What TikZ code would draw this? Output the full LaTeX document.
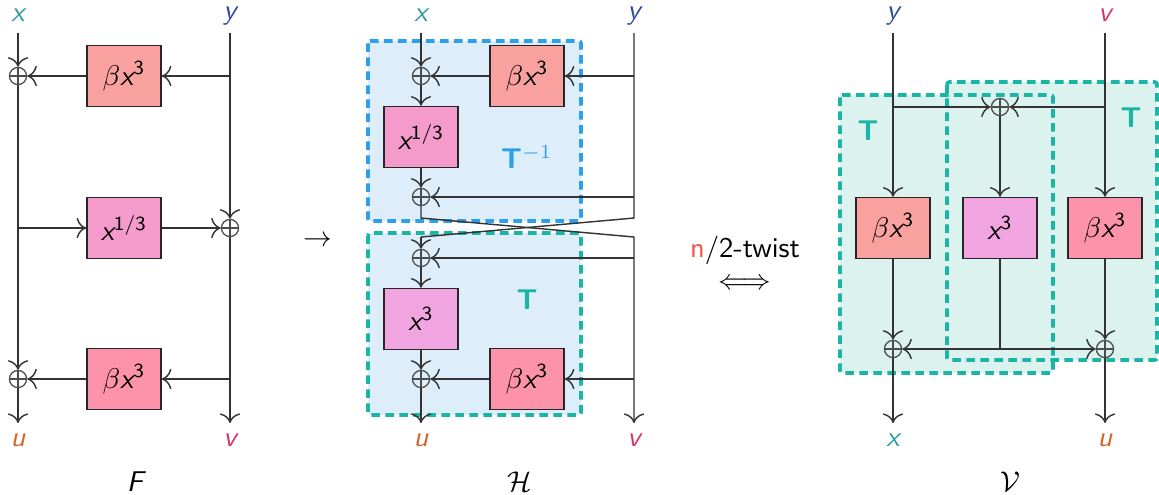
\documentclass[tikz,border=0pt]{standalone}
\usepackage{tikz}
\usetikzlibrary{arrows.meta}
\renewcommand{\familydefault}{\sfdefault}

% цвета
\definecolor{cx}{HTML}{2A9D9D}
\definecolor{cy}{HTML}{2D4C9E}
\definecolor{cu}{HTML}{D2692A}
\definecolor{cv}{HTML}{D03A6A}
\definecolor{salmon}{HTML}{F9A19F}
\definecolor{rootpink}{HTML}{F49BCB}
\definecolor{rose}{HTML}{FC93AB}
\definecolor{lilac}{HTML}{F0A5E0}
\definecolor{tinvblue}{HTML}{2E9FEA}
\definecolor{tteal}{HTML}{1AB5A4}
\definecolor{bgblue}{HTML}{DDEEFA}
\definecolor{bgteal}{HTML}{DCF2EF}
\definecolor{nred}{HTML}{F0554A}

\newcommand{\mv}[1]{{\itshape #1}}

\tikzset{
  wire/.style={draw=black!80, line width=0.5pt},
  arr/.style={wire, -{Computer Modern Rightarrow[scale=1.25]}},
  fbox/.style={draw=black!85, line width=0.5pt, minimum width=25.9pt, minimum height=21.4pt, inner sep=0pt},
  sumnode/.style={circle, draw=black!70, line width=0.45pt, minimum size=6pt, inner sep=0pt,
    path picture={\draw[black!70, line width=0.45pt]
      (path picture bounding box.north) -- (path picture bounding box.south)
      (path picture bounding box.west) -- (path picture bounding box.east);}},
  io/.style={inner sep=0.5pt},
  tframe/.style={line width=1.25pt, dash pattern=on 3pt off 1.9pt, rounded corners=0.8pt},
  tlabel/.style={font=\bfseries}
}

\begin{document}
\begin{tikzpicture}[x=0.35pt, y=-0.35pt]
	% рамка рисунка
	\useasboundingbox (0,0) rectangle (1159,494);

	% ---------- F ----------
	\node[io, text=cx] (Fx) at (18,15) {\mv{x}};
	\node[io, text=cy] (Fy) at (230,16) {\mv{y}};
	\coordinate (Fxt) at (18,33);
	\coordinate (Fyt) at (230,33);
	\node[sumnode] (Fs1) at (18,76) {};
	\node[fbox, fill=salmon] (Fb1) at (124,76) {$\beta$\mv{x}\textsuperscript{3}};
	\node[fbox, fill=rootpink] (Fb2) at (124,228) {\mv{x}\textsuperscript{1/3}};
	\node[sumnode] (Fs2) at (230,228) {};
	\node[fbox, fill=rose] (Fb3) at (124,379) {$\beta$\mv{x}\textsuperscript{3}};
	\node[sumnode] (Fs3) at (18,379) {};
	\coordinate (Fy1) at (230,76);
	\coordinate (Fx2) at (18,228);
	\coordinate (Fy3) at (230,379);
	\coordinate (Fue) at (18,423);
	\coordinate (Fve) at (230,423);
	\node[text=cu] (Fu) at (18,440) {\mv{u}};
	\node[text=cv] (Fv) at (230,440) {\mv{v}};
	\node (Fname) at (135,482) {\mv{F}};

	\draw[arr] (Fxt) -- (Fs1);
	\draw[arr] (Fyt) -- (Fs2);
	\draw[arr] (Fy1) -- (Fb1);
	\draw[arr] (Fb1) -- (Fs1);
	\draw[arr] (Fs1) -- (Fs3);
	\draw[arr] (Fx2) -- (Fb2);
	\draw[arr] (Fb2) -- (Fs2);
	\draw[arr] (Fy3) -- (Fb3);
	\draw[arr] (Fb3) -- (Fs3);
	\draw[arr] (Fs3) -- (Fue);
	\draw[arr] (Fs2) -- (Fve);

	% стрелка между F и H
	\node (toH) at (318,241) {$\to$};

	% ---------- H ----------
	% рамки T^{-1} и T
	\draw[tframe, draw=tinvblue, fill=bgblue] (368,41) rectangle (581,221);
	\draw[tframe, draw=tteal, fill=bgblue] (368,233) rectangle (581,415);
	\node[tlabel, text=tinvblue] (Tinv) at (527,157) {T$^{-1}$};
	\node[tlabel, text=tteal] (Th) at (527,300) {T};

	\node[io, text=cx] (Hx) at (421,15) {\mv{x}};
	\node[io, text=cy] (Hy) at (634,16) {\mv{y}};
	\coordinate (Hxt) at (421,33);
	\coordinate (Hyt) at (634,33);
	\node[sumnode] (Hs1) at (421,76) {};
	\node[fbox, fill=salmon] (Hb1) at (527,76) {$\beta$\mv{x}\textsuperscript{3}};
	\node[fbox, fill=rootpink] (Hb2) at (421,137) {\mv{x}\textsuperscript{1/3}};
	\node[sumnode] (Hs2) at (421,197) {};
	\node[sumnode] (Hs3) at (421,258) {};
	\node[fbox, fill=lilac] (Hb3) at (421,319) {\mv{x}\textsuperscript{3}};
	\node[sumnode] (Hs4) at (421,379) {};
	\node[fbox, fill=rose] (Hb4) at (527,379) {$\beta$\mv{x}\textsuperscript{3}};
	\coordinate (Hy1) at (634,76);
	\coordinate (Hy2) at (634,197);
	\coordinate (Hc1) at (421,218);
	\coordinate (Hc2) at (634,218);
	\coordinate (Hc3) at (421,237);
	\coordinate (Hc4) at (634,237);
	\coordinate (Hv3) at (634,258);
	\coordinate (Hv4) at (634,379);
	\coordinate (Hue) at (421,423);
	\coordinate (Hve) at (634,423);
	\node[text=cu] (Hu) at (421,440) {\mv{u}};
	\node[text=cv] (Hv) at (634,440) {\mv{v}};
	\node (Hname) at (520,482) {$\mathcal{H}$};

	\draw[arr] (Hxt) -- (Hs1);
	\draw[arr] (Hy1) -- (Hb1);
	\draw[arr] (Hb1) -- (Hs1);
	\draw[arr] (Hs1) -- (Hb2);
	\draw[arr] (Hb2) -- (Hs2);
	\draw[arr] (Hy2) -- (Hs2);
	\draw[wire] (Hyt) -- (Hc2) -- (Hc3);
	\draw[arr] (Hc3) -- (Hs3);
	\draw[arr] (Hs2) -- (Hc1) -- (Hc4) -- (Hve);
	\draw[arr] (Hv3) -- (Hs3);
	\draw[arr] (Hs3) -- (Hb3);
	\draw[arr] (Hb3) -- (Hs4);
	\draw[arr] (Hv4) -- (Hb4);
	\draw[arr] (Hb4) -- (Hs4);
	\draw[arr] (Hs4) -- (Hue);

	% переход
	\node (twist) at (745,250) {{\color{nred}n}/2-twist};
	\node (equiv) at (745,284) {$\Longleftrightarrow$};

	% ---------- V ----------
	% две рамки T
	\fill[bgteal] (840,95) rectangle (1053,373);
	\fill[bgteal] (947,82) rectangle (1157,360);
	\draw[tframe, draw=tteal] (840,95) rectangle (1053,373);
	\draw[tframe, draw=tteal] (947,82) rectangle (1157,360);
	\node[tlabel, text=tteal] (Tl) at (868,131) {T};
	\node[tlabel, text=tteal] (Tr) at (1131,118) {T};

	\node[io, text=cy] (Vy) at (893,16) {\mv{y}};
	\node[io, text=cv] (Vv) at (1105,15) {\mv{v}};
	\coordinate (Vyt) at (893,33);
	\coordinate (Vvt) at (1105,33);
	\coordinate (Vy1) at (893,107);
	\coordinate (Vv1) at (1105,107);
	\node[sumnode] (Vs1) at (1000,107) {};
	\node[fbox, fill=salmon] (Vb1) at (893,228) {$\beta$\mv{x}\textsuperscript{3}};
	\node[fbox, fill=lilac] (Vb2) at (1000,228) {\mv{x}\textsuperscript{3}};
	\node[fbox, fill=rose] (Vb3) at (1105,228) {$\beta$\mv{x}\textsuperscript{3}};
	\node[sumnode] (Vs2) at (893,349) {};
	\node[sumnode] (Vs3) at (1105,349) {};
	\coordinate (Vm) at (1000,349);
	\coordinate (Vxe) at (893,423);
	\coordinate (Vue) at (1105,423);
	\node[text=cx] (Vx) at (893,440) {\mv{x}};
	\node[text=cu] (Vu) at (1105,440) {\mv{u}};
	\node (Vname) at (1010,482) {$\mathcal{V}$};

	\draw[arr] (Vyt) -- (Vb1);
	\draw[arr] (Vvt) -- (Vb3);
	\draw[arr] (Vy1) -- (Vs1);
	\draw[arr] (Vv1) -- (Vs1);
	\draw[arr] (Vs1) -- (Vb2);
	\draw[arr] (Vb1) -- (Vs2);
	\draw[arr] (Vb3) -- (Vs3);
	\draw[wire] (Vb2) -- (Vm);
	\draw[arr] (Vm) -- (Vs2);
	\draw[arr] (Vm) -- (Vs3);
	\draw[arr] (Vs2) -- (Vxe);
	\draw[arr] (Vs3) -- (Vue);
\end{tikzpicture}
\end{document}
